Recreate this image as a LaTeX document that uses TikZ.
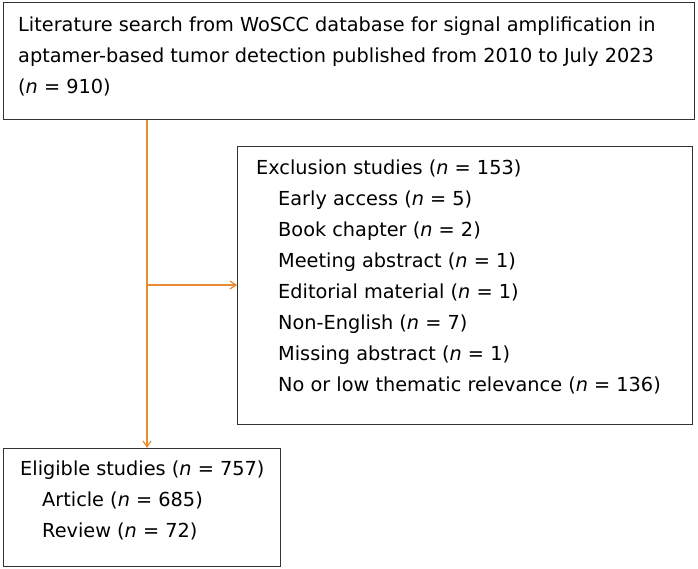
\documentclass[tikz,border=0pt]{standalone}
\usepackage{fontspec}
\usetikzlibrary{arrows.meta}
\setmainfont{DejaVu Sans}
\begin{document}
\begin{tikzpicture}[x=1pt,y=-1pt,
  box/.style={draw=black!80,line width=1pt},
  txt/.style={anchor=north west,inner sep=0pt,font=\fontsize{19.3}{31}\selectfont,align=left},
  conn/.style={draw={rgb,255:red,232;green,140;blue,50},line width=1.2pt}]
\useasboundingbox (0,0) rectangle (698,569);
\draw[box] (3,3) rectangle (694,120);
\draw[box] (237,147) rectangle (692,424);
\draw[box] (3,448) rectangle (280,566);
\node[txt] (t1) at (18,17) {Literature search from WoSCC database for signal amplification in\\aptamer-based tumor detection published from 2010 to July 2023\\(\textit{n} = 910)};
\node[txt] (t2) at (256,160) {Exclusion studies (\textit{n} = 153)\\
\hspace*{22pt}Early access (\textit{n} = 5)\\
\hspace*{22pt}Book chapter (\textit{n} = 2)\\
\hspace*{22pt}Meeting abstract (\textit{n} = 1)\\
\hspace*{22pt}Editorial material (\textit{n} = 1)\\
\hspace*{22pt}Non-English (\textit{n} = 7)\\
\hspace*{22pt}Missing abstract (\textit{n} = 1)\\
\hspace*{22pt}No or low thematic relevance (\textit{n} = 136)};
\node[txt] (t3) at (20,461) {Eligible studies (\textit{n} = 757)\\
\hspace*{22pt}Article (\textit{n} = 685)\\
\hspace*{22pt}Review (\textit{n} = 72)};
\coordinate (a) at (147,120);
\coordinate (b) at (147,285);
\coordinate (c) at (237,285);
\coordinate (d) at (147,448);
\draw[conn,-{Straight Barb[length=6pt,width=8pt]}] (b) -- (c);
\draw[conn,-{Straight Barb[length=6pt,width=8pt]}] (a) -- (d);
\end{tikzpicture}
\end{document}
